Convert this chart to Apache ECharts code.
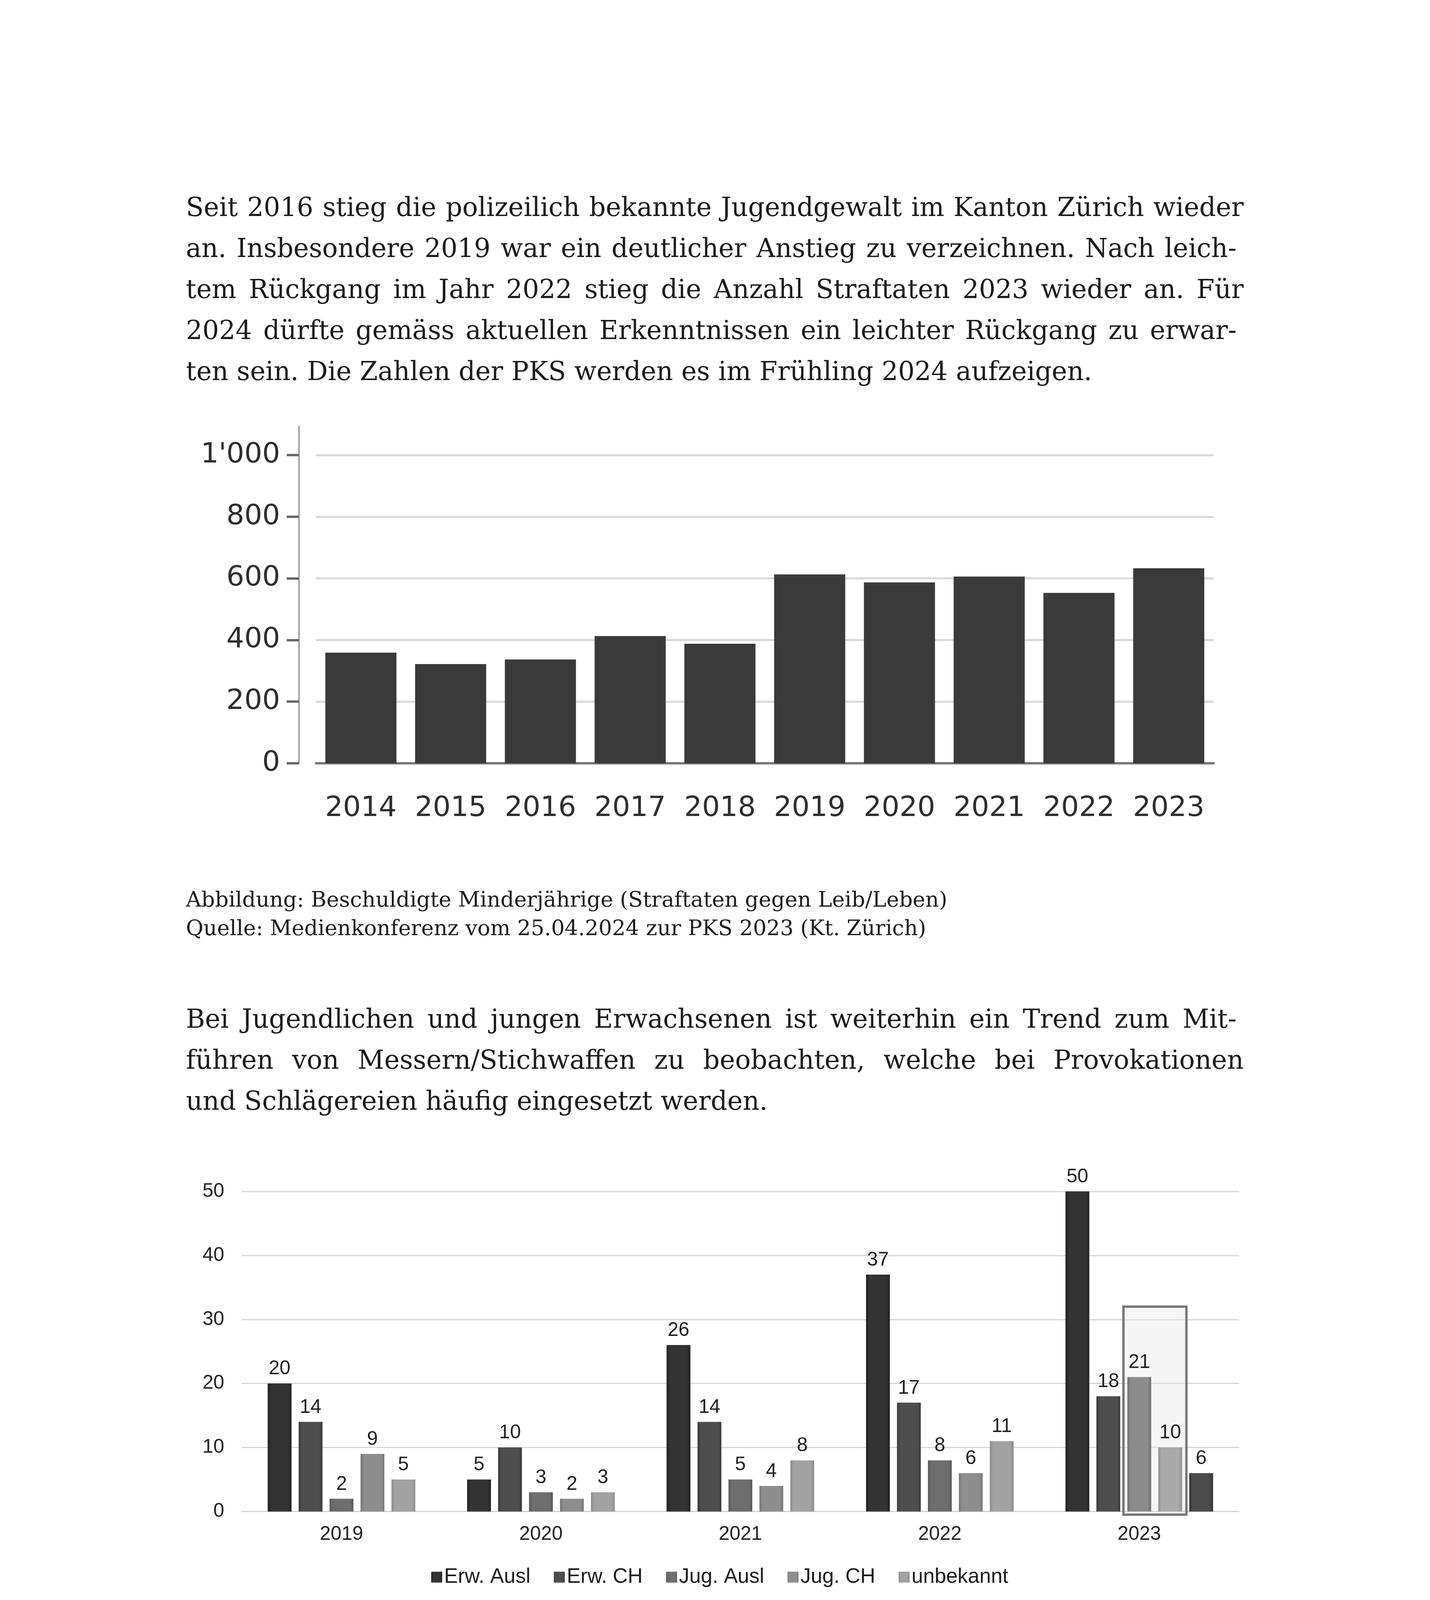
<!DOCTYPE html>
<html><head><meta charset="utf-8">
<script src="https://cdn.jsdelivr.net/npm/echarts@6/dist/echarts.min.js"></script>
<style>
html,body{margin:0;padding:0;background:#fff;}
#page{position:relative;width:3661px;height:5315px;overflow:hidden;background:#fff;}
#chart{position:absolute;left:0;top:0;width:3661px;height:5315px;}
.ln{position:absolute;white-space:pre;color:#1b1b1b;z-index:5;}
</style></head><body><div id="page"><div id="chart"></div></div>
<script>
// ---------- DATA ----------
const years1 = ['2014','2015','2016','2017','2018','2019','2020','2021','2022','2023'];
const minorsAccused = [359, 322, 337, 413, 388, 613, 587, 606, 553, 633];
const yTicks1 = [0, 200, 400, 600, 800, 1000];

const years2 = ['2019','2020','2021','2022','2023'];
const groupNames = ['Erw. Ausl','Erw. CH','Jug. Ausl','Jug. CH','unbekannt'];
const erwAusl   = [20, 5, 26, 37, 50];
const erwCH     = [14, 10, 14, 17, 18];
const jugAusl   = [2, 3, 5, 8, 21];
const jugCH     = [9, 2, 4, 6, 10];
const unbekannt = [5, 3, 8, 11, 6];
const highlightBox = [['2023', 32]]; // category, upper value of the highlight frame

const para1 = [
 'Seit 2016 stieg die polizeilich bekannte Jugendgewalt im Kanton Zürich wieder',
 'an. Insbesondere 2019 war ein deutlicher Anstieg zu verzeichnen. Nach leich-',
 'tem Rückgang im Jahr 2022 stieg die Anzahl Straftaten 2023 wieder an. Für',
 '2024 dürfte gemäss aktuellen Erkenntnissen ein leichter Rückgang zu erwar-',
 'ten sein. Die Zahlen der PKS werden es im Frühling 2024 aufzeigen.'
];
const caption1 = ['Abbildung: Beschuldigte Minderjährige (Straftaten gegen Leib/Leben)',
 'Quelle: Medienkonferenz vom 25.04.2024 zur PKS 2023 (Kt. Zürich)'];
const para2 = [
 'Bei Jugendlichen und jungen Erwachsenen ist weiterhin ein Trend zum Mit-',
 'führen von Messern/Stichwaffen zu beobachten, welche bei Provokationen',
 'und Schlägereien häufig eingesetzt werden.'
];
const caption2 = ['Abbildung: Gewaltdelikte mittels Schneid- und Stichwaffen',
 'Quelle: Medienkonferenz vom 25.04.2024 zur PKS 2023 (Kt. Zürich)'];
const para3 = [
 '2023 war die höchste Anzahl Gewaltdelikte mit Schneid- und Stichwaffen zu',
 'verzeichnen. Vor allem ausländische Jugendliche treten in der Abbildung mar-',
 'kant hervor. Eine Zunahme war aber auch bei Jugendlichen mit schweizeri-'
];
const pageNumber = '14';

// ---------- TEXT ----------
const page = document.getElementById('page');
const cv = document.createElement('canvas').getContext('2d');
const SERIF = "'DejaVu Serif'";
const LEFT = 476, WIDTH = 2708;
function natural(text, size){ cv.font = size + 'px ' + SERIF; return cv.measureText(text); }
function addLine(text, baseline, size, justify){
  const m = natural(text, size);
  const asc = m.fontBoundingBoxAscent, desc = m.fontBoundingBoxDescent;
  const d = document.createElement('div');
  d.className = 'ln';
  d.textContent = text;
  d.style.fontFamily = SERIF;
  d.style.fontSize = size + 'px';
  d.style.lineHeight = (asc + desc) + 'px';
  d.style.left = LEFT + 'px';
  d.style.top = (baseline - asc) + 'px';
  if (justify) {
    const target = WIDTH - (text.endsWith('-') ? 18 : 0);
    const spaces = (text.match(/ /g) || []).length;
    if (spaces) d.style.wordSpacing = ((target - m.width) / spaces) + 'px';
  }
  page.appendChild(d);
}
const fullLines = [].concat(para1.slice(0,4), para2.slice(0,2), para3);
let maxNat = 0; fullLines.forEach(t => { maxNat = Math.max(maxNat, natural(t, 100).width); });
const bodySize = Math.min(72, 0.99 * WIDTH * 100 / maxNat);
const capSize = 1950 * 100 / natural(caption1[0], 100).width;

function para(lines, baselines, lastJustified){
  lines.forEach((t, i) => addLine(t, baselines[i], bodySize, i < lines.length - 1 || lastJustified));
}
para(para1, [553, 658, 763, 868, 973], false);
caption1.forEach((t, i) => addLine(t, [2321, 2394][i], capSize, false));
para(para2, [2631, 2736, 2841], false);
caption2.forEach((t, i) => addLine(t, [4256, 4328][i], capSize, false));
para(para3, [4566, 4671, 4776], true);
addLine(pageNumber, 4981, capSize, false);

// ---------- CHARTS ----------
const chart = echarts.init(document.getElementById('chart'), null, {renderer: 'canvas'});
function shade(c, e){
  return {type:'linear', x:0, y:0, x2:1, y2:0, colorStops:[
    {offset:0, color:e}, {offset:0.14, color:c}, {offset:0.86, color:c}, {offset:1, color:e}]};
}
const baseCols = ['#333333', '#4e4e4e', '#6e6e6e', '#8e8e8e', '#a2a2a2'];
const edgeCols = ['#1f1f1f', '#383838', '#575757', '#767676', '#8a8a8a'];
const CAT_GAP = 0.26, BAR_GAP = 0.30;
const sans1 = "'DejaVu Sans'", sans2 = "'Liberation Sans'";
const fmtThousands = v => String(v).replace(/\B(?=(\d{3})+(?!\d))/g, "'");

// styling of the 2023 bars (inside the highlight frame / darker last bar)
const lastIdx = years2.length - 1;
function styled(arr, k, c, e){
  return arr.map((v, i) => i === lastIdx ? {value: v, itemStyle: {color: shade(c, e)}} : v);
}
const seriesData2 = [erwAusl, erwCH,
  styled(jugAusl, 2, '#8c8c8c', '#6e6e6e'),
  styled(jugCH, 3, '#aaaaaa', '#8e8e8e'),
  styled(unbekannt, 4, '#4c4c4c', '#303030')];

const option = {
  animation: false,
  backgroundColor: '#fff',
  grid: [
    {left: 809, top: 1091, width: 2298, height: 863},
    {left: 619, top: 3050, width: 2553, height: 819.5}
  ],
  xAxis: [
    {gridIndex: 0, type: 'category', data: years1,
      axisLine: {lineStyle: {color: '#777', width: 6}},
      axisTick: {alignWithLabel: true, length: 26, lineStyle: {color: '#888', width: 3}},
      axisLabel: {interval: 0, margin: 80, fontFamily: sans1, fontSize: 72, color: '#2e2e2e'}},
    {gridIndex: 1, type: 'category', data: years2,
      axisLine: {lineStyle: {color: '#d2d2d2', width: 3}},
      axisTick: {show: false},
      axisLabel: {interval: 0, margin: 34, fontFamily: sans2, fontSize: 50, color: '#222'}}
  ],
  yAxis: [
    {gridIndex: 0, type: 'value', min: 0, max: 1094, interval: 200, offset: 44,
      axisLine: {show: true, lineStyle: {color: '#8a8a8a', width: 3}},
      axisTick: {show: true, length: 31, customValues: yTicks1, lineStyle: {color: '#666', width: 6}},
      axisLabel: {customValues: yTicks1, margin: 48, fontFamily: sans1, fontSize: 72, color: '#2e2e2e',
        formatter: v => fmtThousands(v)},
      splitLine: {show: true, lineStyle: {color: '#d8d8d8', width: 5}}},
    {gridIndex: 1, type: 'value', min: 0, max: 50, interval: 10,
      axisLine: {show: false}, axisTick: {show: false},
      axisLabel: {margin: 45, fontFamily: sans2, fontSize: 50, color: '#222'},
      splitLine: {show: true, lineStyle: {color: '#d6d6d6', width: 3}}}
  ],
  legend: {
    data: groupNames, left: 1099, top: 4006, itemWidth: 28, itemHeight: 28, itemGap: 60,
    icon: 'rect', textStyle: {fontFamily: sans2, fontSize: 53, color: '#1a1a1a'}
  },
  series: [
    {type: 'bar', xAxisIndex: 0, yAxisIndex: 0, data: minorsAccused, barWidth: 182,
      itemStyle: {color: '#3a3a3a'}},
  ].concat(groupNames.map((n, k) => ({
    type: 'bar', name: n, xAxisIndex: 1, yAxisIndex: 1, data: seriesData2[k], z: 3,
    barCategoryGap: (CAT_GAP * 100) + '%', barGap: (BAR_GAP * 100) + '%',
    itemStyle: {color: shade(baseCols[k], edgeCols[k])},
    label: {show: true, position: 'top', distance: 12, fontFamily: sans2, fontSize: 50, color: '#1e1e1e'}
  }))).concat([{
    type: 'custom', xAxisIndex: 1, yAxisIndex: 1, data: highlightBox, z: 1, silent: true,
    renderItem: function (params, api) {
      const base = api.coord([api.value(0), 0]);
      const topP = api.coord([api.value(0), api.value(1)]);
      const band = api.size([1, 0])[0];
      const n = groupNames.length;
      const groupW = band * (1 - CAT_GAP);
      const bw = groupW / (n + (n - 1) * BAR_GAP);
      const g0 = base[0] - groupW / 2;
      const x1 = g0 + 2 * bw * (1 + BAR_GAP) - 10;
      const x2 = g0 + 3 * bw * (1 + BAR_GAP) + bw + 11;
      return {type: 'rect', shape: {x: x1, y: topP[1], width: x2 - x1, height: base[1] + 8 - topP[1]},
        style: {fill: 'rgba(232,232,232,0.45)', stroke: '#777', lineWidth: 6}};
    }
  }])
};
chart.setOption(option);
</script></body></html>
